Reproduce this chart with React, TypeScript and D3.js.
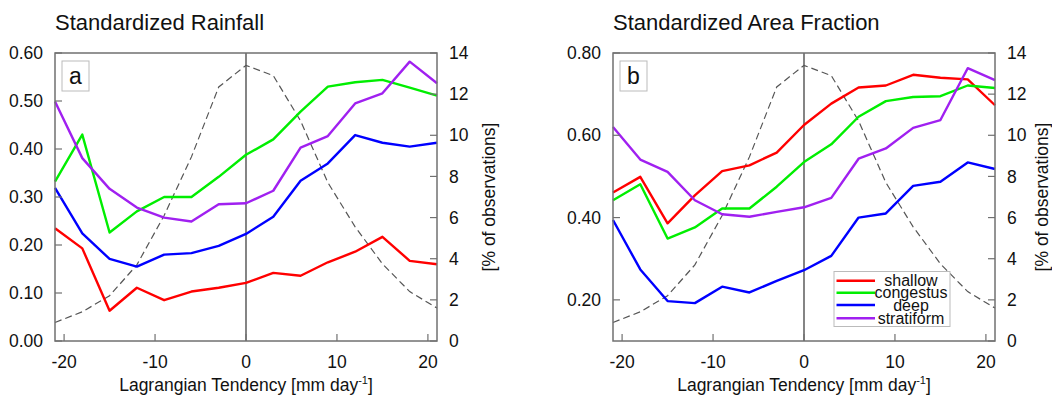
import React from "react";
import * as d3 from "d3";

const xValues = [-21, -18, -15, -12, -9, -6, -3, 0, 3, 6, 9, 12, 15, 18, 21];
const xTicks = [-20, -10, 0, 10, 20];
const rightTicks = [0, 2, 4, 6, 8, 10, 12, 14];

const obsPercent = [0.9, 1.42, 2.2, 3.7, 6.1, 8.95, 12.35, 13.4, 12.9, 10.7, 7.7, 5.55, 3.75, 2.4, 1.6];

const rainShallow = [0.235, 0.193, 0.063, 0.111, 0.085, 0.103, 0.111, 0.121, 0.142, 0.136, 0.164, 0.186, 0.217, 0.167, 0.16];
const rainCongestus = [0.332, 0.43, 0.226, 0.27, 0.3, 0.3, 0.342, 0.388, 0.42, 0.478, 0.53, 0.539, 0.544, 0.528, 0.511];
const rainDeep = [0.319, 0.224, 0.171, 0.155, 0.18, 0.183, 0.198, 0.223, 0.259, 0.334, 0.37, 0.429, 0.413, 0.405, 0.413];
const rainStratiform = [0.499, 0.381, 0.317, 0.278, 0.257, 0.249, 0.285, 0.287, 0.313, 0.403, 0.427, 0.495, 0.516, 0.582, 0.537];

const areaShallow = [0.461, 0.499, 0.386, 0.454, 0.513, 0.527, 0.558, 0.625, 0.677, 0.716, 0.721, 0.747, 0.74, 0.736, 0.673];
const areaCongestus = [0.442, 0.481, 0.349, 0.376, 0.422, 0.422, 0.475, 0.535, 0.578, 0.645, 0.683, 0.693, 0.695, 0.721, 0.715];
const areaDeep = [0.394, 0.274, 0.197, 0.192, 0.232, 0.218, 0.246, 0.272, 0.307, 0.4, 0.41, 0.477, 0.487, 0.534, 0.518];
const areaStratiform = [0.62, 0.541, 0.511, 0.442, 0.408, 0.402, 0.414, 0.425, 0.448, 0.543, 0.568, 0.618, 0.637, 0.763, 0.734];

const rainTicks = [0, 0.1, 0.2, 0.3, 0.4, 0.5, 0.6];
const areaTicks = [0.2, 0.4, 0.6, 0.8];

const seriesNames = ["shallow", "congestus", "deep", "stratiform"];
const seriesColors = ["#ff0000", "#00ee00", "#0000ff", "#a020f0"];

const FONT = "'Liberation Sans', Arial, Helvetica, sans-serif";
const FRAME = "#707070";

type PanelProps = {
  left: number;
  right: number;
  title: string;
  label: string;
  yDomain: [number, number];
  yTicks: number[];
  series: number[][];
  legend: boolean;
  rightLabelOffset: number;
};

function Panel({ left, right, title, label, yDomain, yTicks, series, legend, rightLabelOffset }: PanelProps) {
  const top = 53;
  const bottom = 341;
  const x = d3.scaleLinear().domain([-21, 21]).range([left, right]);
  const y = d3.scaleLinear().domain(yDomain).range([bottom, top]);
  const yR = d3.scaleLinear().domain([0, 14]).range([bottom, top]);
  const line = d3
    .line<number>()
    .x((_, i) => x(xValues[i]))
    .y((d) => y(d));
  const lineR = d3
    .line<number>()
    .x((_, i) => x(xValues[i]))
    .y((d) => yR(d));
  const tick = 7;
  const cx = (left + right) / 2;
  const legLeft = right - 161;
  const legTop = 271.5;
  return (
    <g fontFamily={FONT}>
      <text x={left} y={30} fontSize={22} fill="#111">
        {title}
      </text>
      <line x1={x(0)} x2={x(0)} y1={top} y2={bottom} stroke="#333" strokeWidth={1.2} />
      <path d={lineR(obsPercent) || ""} fill="none" stroke="#555" strokeWidth={1.2} strokeDasharray="7,4" />
      {series.map((s, i) => (
        <path key={i} d={line(s) || ""} fill="none" stroke={seriesColors[i]} strokeWidth={2.4} strokeLinejoin="round" />
      ))}
      <rect x={left} y={top} width={right - left} height={bottom - top} fill="none" stroke={FRAME} strokeWidth={1.5} />
      {yTicks.map((t) => (
        <g key={"l" + t}>
          <line x1={left} x2={left + tick} y1={y(t)} y2={y(t)} stroke={FRAME} strokeWidth={1.2} />
          <text x={left - 12} y={y(t)} dy="0.35em" textAnchor="end" fontSize={17.5} fill="#111">
            {d3.format(".2f")(t)}
          </text>
        </g>
      ))}
      {rightTicks.map((t) => (
        <g key={"r" + t}>
          <line x1={right} x2={right - tick} y1={yR(t)} y2={yR(t)} stroke={FRAME} strokeWidth={1.2} />
          <text x={right + 12} y={yR(t)} dy="0.35em" textAnchor="start" fontSize={17.5} fill="#111">
            {t}
          </text>
        </g>
      ))}
      {xTicks.map((t) => (
        <g key={"b" + t}>
          <line x1={x(t)} x2={x(t)} y1={bottom} y2={bottom - tick} stroke={FRAME} strokeWidth={1.2} />
          <text x={x(t)} y={362} dy="0.35em" textAnchor="middle" fontSize={17.5} fill="#111">
            {t}
          </text>
        </g>
      ))}
      <text x={cx} y={391} textAnchor="middle" fontSize={17.5} fill="#111">
        Lagrangian Tendency [mm day
        <tspan fontSize={11} dy={-7}>-1</tspan>
        <tspan dy={7}>]</tspan>
      </text>
      <text
        transform={`translate(${right + rightLabelOffset},${(top + bottom) / 2}) rotate(-90)`}
        textAnchor="middle"
        dy="0.35em"
        fontSize={17.5}
        fill="#111"
      >
        [% of observations]
      </text>
      <rect x={left + 7} y={61} width={27} height={30} fill="#fff" stroke="#bbb" strokeWidth={1} />
      <text x={left + 20.5} y={76} dy="0.35em" textAnchor="middle" fontSize={23} fill="#111">
        {label}
      </text>
      {legend && (
        <g>
          <rect x={legLeft} y={legTop} width={116} height={55} fill="#fff" stroke="#bbb" strokeWidth={1} />
          {seriesNames.map((n, i) => {
            const ly = [280.7, 292.7, 305, 318.3][i];
            return (
              <g key={n}>
                <line x1={legLeft + 2.5} x2={legLeft + 41} y1={ly} y2={ly} stroke={seriesColors[i]} strokeWidth={2.4} />
                <text x={legLeft + 77} y={ly} dy="0.35em" textAnchor="middle" fontSize={16} fill="#111">
                  {n}
                </text>
              </g>
            );
          })}
        </g>
      )}
    </g>
  );
}

export default function App() {
  return (
    <svg
      width={1052}
      height={395}
      style={{ position: "absolute", left: 0, top: 0, background: "#fff" }}
    >
      <rect width={1052} height={395} fill="#fff" />
      <Panel
        left={55}
        right={437}
        title="Standardized Rainfall"
        label="a"
        yDomain={[0, 0.6]}
        yTicks={rainTicks}
        series={[rainShallow, rainCongestus, rainDeep, rainStratiform]}
        legend={false}
        rightLabelOffset={52}
      />
      <Panel
        left={613}
        right={995}
        title="Standardized Area Fraction"
        label="b"
        yDomain={[0.1, 0.8]}
        yTicks={areaTicks}
        series={[areaShallow, areaCongestus, areaDeep, areaStratiform]}
        legend={true}
        rightLabelOffset={47}
      />
    </svg>
  );
}
